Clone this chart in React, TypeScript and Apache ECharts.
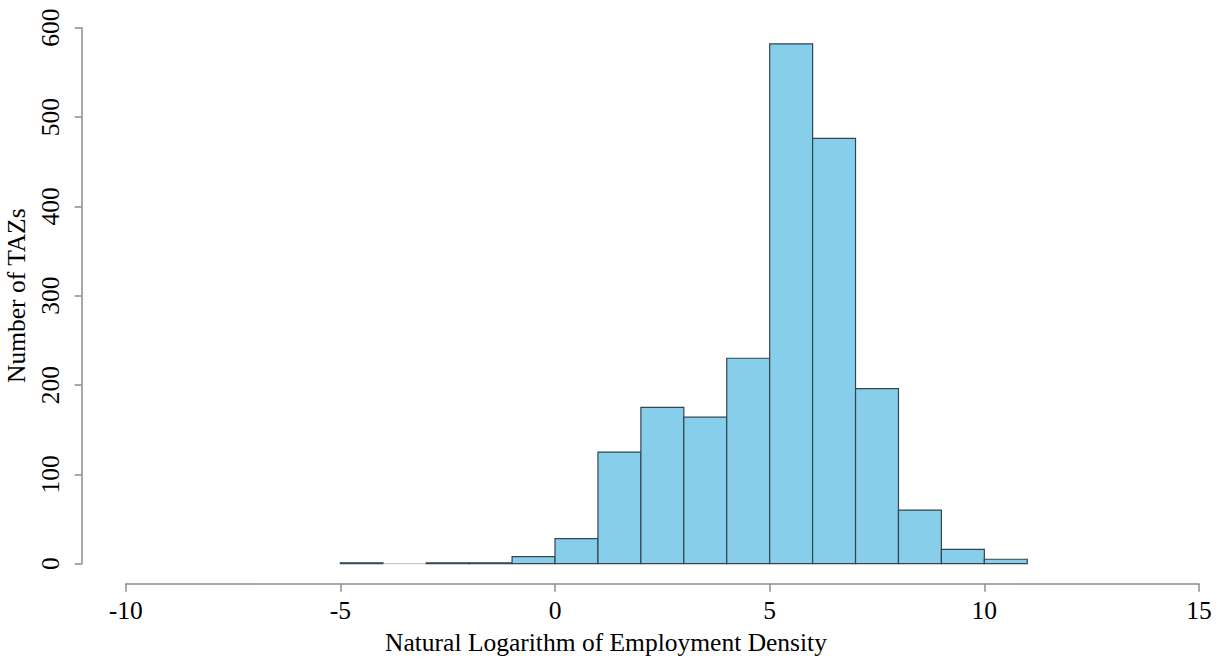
import React, { useEffect, useRef } from "react";
import * as echarts from "echarts";

// Histogram bins (left edge, width 1) and the number of TAZs in each
const binStarts = [-5, -4, -3, -2, -1, 0, 1, 2, 3, 4, 5, 6, 7, 8, 9, 10];
const counts = [1, 0, 1, 1, 8, 28, 125, 175, 164, 230, 582, 476, 196, 60, 16, 5];
const binWidth = 1;

const xTitle = "Natural Logarithm of Employment Density";
const yTitle = "Number of TAZs";

const FONT = "'Liberation Serif', 'Times New Roman', serif";

export default function App() {
  const ref = useRef<HTMLDivElement>(null);

  useEffect(() => {
    document.body.style.margin = "0";
    if (!ref.current) return;
    const chart = echarts.init(ref.current, undefined, { renderer: "svg" });

    const data = binStarts.map((s, i) => [s, s + binWidth, counts[i]]);

    chart.setOption({
      animation: false,
      backgroundColor: "#ffffff",
      grid: {
        left: 125.7,
        right: 19,
        top: 27.7,
        bottom: 96.3,
        containLabel: false,
        outerBoundsMode: "none",
      },
      // x-axis title, centred on the full plotting region
      graphic: [
        {
          type: "text",
          x: 606,
          y: 642,
          style: {
            text: xTitle,
            font: `25.5px ${FONT}`,
            fill: "#000",
            align: "center",
            verticalAlign: "middle",
          },
        },
      ],
      xAxis: {
        type: "value",
        min: -10,
        max: 15,
        interval: 5,
        offset: 20,
        axisLine: { show: true, onZero: false, lineStyle: { color: "#8c8c8c", width: 1.5 } },
        axisTick: { show: true, length: 8, lineStyle: { color: "#8c8c8c", width: 1.5 } },
        axisLabel: { fontFamily: FONT, fontSize: 25.5, color: "#000", margin: 14 },
        splitLine: { show: false },
      },
      yAxis: {
        type: "value",
        min: 0,
        max: 600,
        interval: 100,
        offset: 44,
        name: yTitle,
        nameLocation: "middle",
        nameRotate: 90,
        nameGap: 51,
        nameTextStyle: { fontFamily: FONT, fontSize: 25.5, color: "#000" },
        axisLine: { show: true, onZero: false, lineStyle: { color: "#8c8c8c", width: 1.5 } },
        axisTick: { show: true, length: 7, lineStyle: { color: "#8c8c8c", width: 1.5 } },
        axisLabel: { fontFamily: FONT, fontSize: 25.5, color: "#000", rotate: 90, margin: 18 },
        splitLine: { show: false },
      },
      series: [
        {
          type: "custom",
          encode: { x: [0, 1], y: 2 },
          data,
          renderItem: (params: any, api: any) => {
            const x0 = api.value(0);
            const x1 = api.value(1);
            const c = api.value(2);
            const top = api.coord([x0, c]);
            const bottom = api.coord([x1, 0]);
            return {
              type: "rect",
              shape: {
                x: top[0],
                y: top[1],
                width: bottom[0] - top[0],
                height: bottom[1] - top[1],
              },
              style: {
                fill: "#87CEEB",
                stroke: c === 0 ? "#c8c8c8" : "#34454f",
                lineWidth: 1.2,
              },
            };
          },
        },
      ],
    });

    return () => chart.dispose();
  }, []);

  return <div ref={ref} style={{ width: 1218, height: 660 }} />;
}
